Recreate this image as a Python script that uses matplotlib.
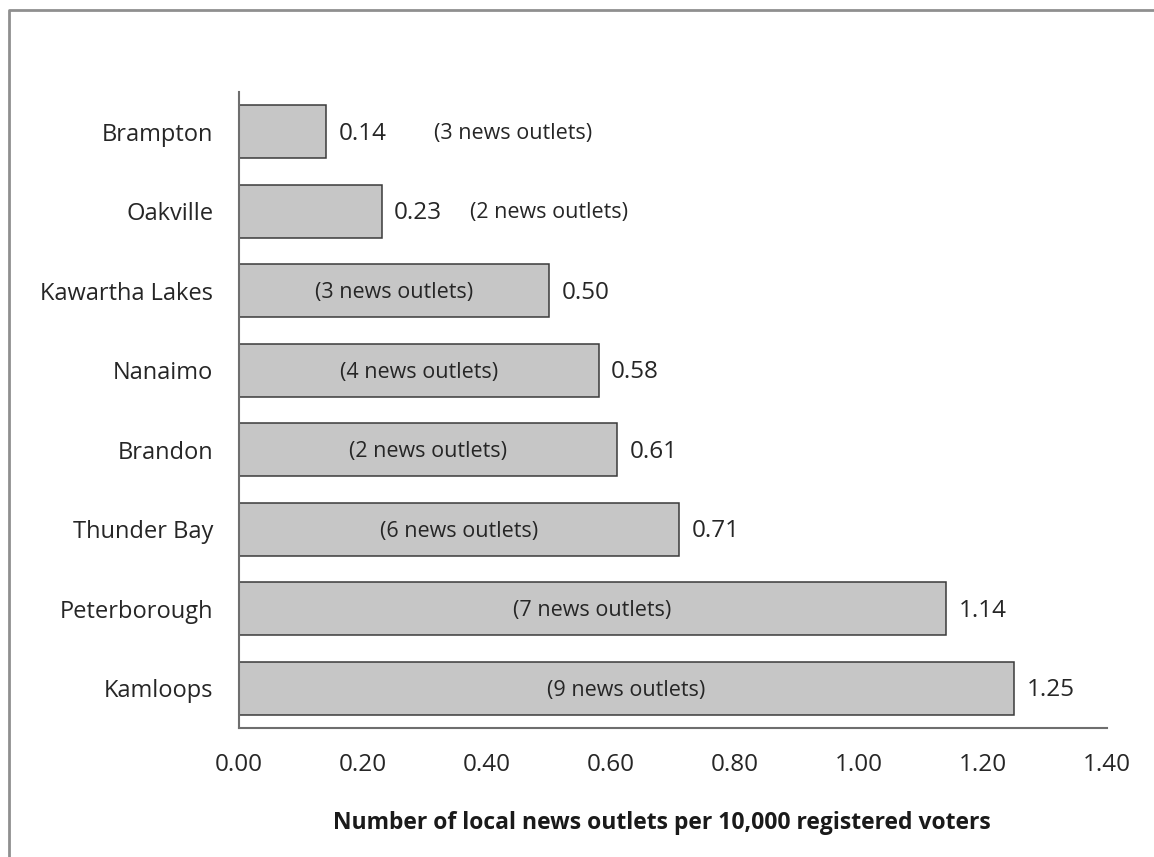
import matplotlib
matplotlib.use("Agg")
import matplotlib.pyplot as plt

cities = ["Brampton", "Oakville", "Kawartha Lakes", "Nanaimo", "Brandon",
          "Thunder Bay", "Peterborough", "Kamloops"]
outlets_per_10k = [0.14, 0.23, 0.50, 0.58, 0.61, 0.71, 1.14, 1.25]
outlet_counts = [3, 2, 3, 4, 2, 6, 7, 9]
x_ticks = [0.00, 0.20, 0.40, 0.60, 0.80, 1.00, 1.20, 1.40]

plt.rcParams["font.family"] = ["Open Sans", "DejaVu Sans"]
text_color = "#262626"

fig = plt.figure(figsize=(11.54, 8.57), dpi=100)
ax = fig.add_axes([239 / 1154, 1 - 728 / 857, (1107 - 239) / 1154, (728 - 92) / 857])

ypos = list(range(len(cities)))[::-1]
ax.barh(ypos, outlets_per_10k, height=0.67, color="#c6c6c6",
        edgecolor="#3a3a3a", linewidth=1.1, zorder=2)

for y, v, n in zip(ypos, outlets_per_10k, outlet_counts):
    ax.annotate(f"{v:.2f}", (v, y), xytext=(9, -1.5), textcoords="offset points",
                ha="left", va="center", fontsize=17.5, color=text_color)
    label = f"({n} news outlets)"
    if v < 0.4:
        # short bars: outlet count sits to the right of the value label
        ax.annotate(label, (v, y), xytext=(78 if v < 0.2 else 64, -1),
                    textcoords="offset points", ha="left", va="center",
                    fontsize=15.5, color=text_color)
    else:
        ax.annotate(label, (v / 2, y), xytext=(0, -1.5), textcoords="offset points",
                    ha="center", va="center", fontsize=15.5, color=text_color)

ax.set_xlim(0, 1.4)
ax.set_ylim(-0.5, len(cities) - 0.5)
ax.set_xticks(x_ticks)
ax.set_xticklabels([f"{t:.2f}" for t in x_ticks], fontsize=17.5, color=text_color)
ax.set_yticks(ypos)
ax.set_yticklabels(cities, fontsize=17, color=text_color)
ax.tick_params(length=0, pad=18.5, axis="y")
ax.tick_params(length=0, pad=18, axis="x")
for s in ["top", "right"]:
    ax.spines[s].set_visible(False)
for s in ["left", "bottom"]:
    ax.spines[s].set_color("#6e6e6e")
    ax.spines[s].set_linewidth(1.5)

fig.text(662 / 1154, 1 - 823 / 857,
         "Number of local news outlets per 10,000 registered voters",
         ha="center", va="center", fontsize=16.5, fontweight="bold", color="#1a1a1a")

# frame around the figure (top and left edges)
fig.add_artist(plt.Line2D([9 / 1154, 9 / 1154, 1], [0, 1 - 10 / 857, 1 - 10 / 857],
                          transform=fig.transFigure, color="#8f8f8f", linewidth=2))

fig.savefig("out.png", dpi=100, facecolor="white")
